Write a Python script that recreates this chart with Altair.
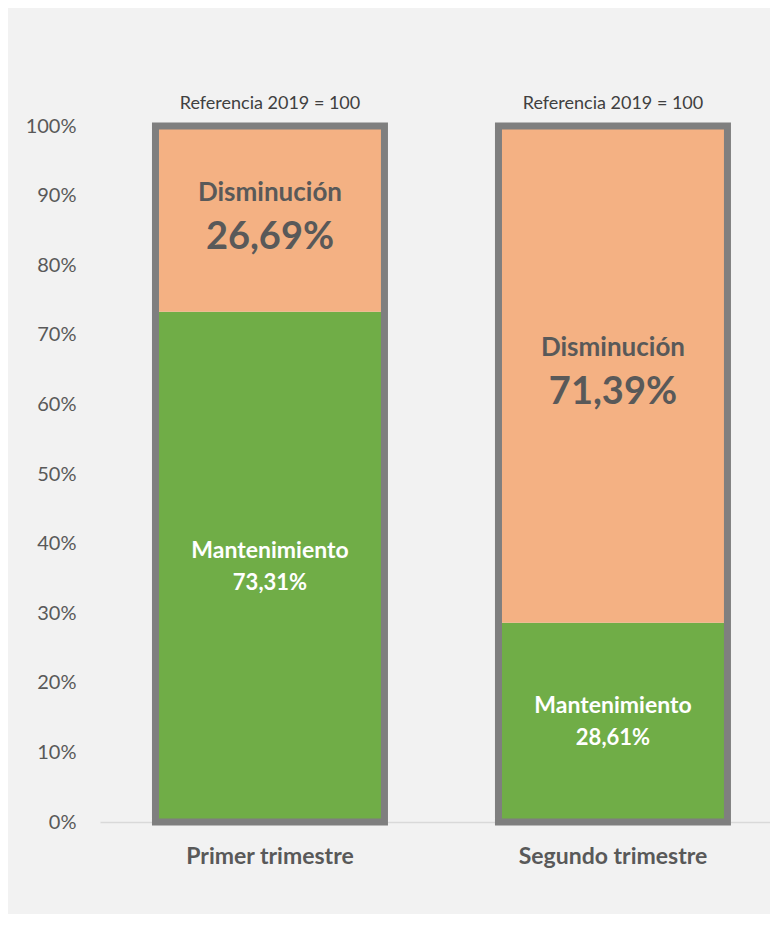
import altair as alt
import pandas as pd

quarters = ["Primer trimestre", "Segundo trimestre"]
mantenimiento = [73.31, 28.61]
disminucion = [26.69, 71.39]
segment_names = ["Mantenimiento", "Disminución"]
reference_label = "Referencia 2019 = 100"
y_ticks = [0, 10, 20, 30, 40, 50, 60, 70, 80, 90, 100]

rows = []
for q, m, d in zip(quarters, mantenimiento, disminucion):
    rows.append({"q": q, "seg": segment_names[0], "v": m, "y0": 0.0, "y1": m})
    rows.append({"q": q, "seg": segment_names[1], "v": d, "y0": m, "y1": m + d})
df = pd.DataFrame(rows)
df["mid"] = (df["y0"] + df["y1"]) / 2
df["txt"] = df["v"].map(lambda v: f"{v:.2f}".replace(".", ",") + "%")

ref = pd.DataFrame({"q": quarters, "lo": [0, 0], "hi": [100, 100], "lab": [reference_label] * 2})

FONT = "Lato"
GREY = "#595959"

xscale = alt.Scale(domain=quarters, paddingInner=0.3324, paddingOuter=0.1429, align=0.566)
yscale = alt.Scale(domain=[0, 100], nice=False)

x_enc = alt.X("q:N", scale=xscale, sort=quarters, title=None,
              axis=alt.Axis(labelAngle=0, labelFont=FONT, labelFontSize=23, labelFontWeight="bold",
                            labelColor=GREY, labelPadding=23, labelLimit=0, ticks=False,
                            domainColor="#d9d9d9", domainWidth=1.5))
y_axis = alt.Axis(values=y_ticks, labelExpr="datum.value + '%'", labelFont=FONT, labelFontSize=20,
                  labelColor=GREY, labelPadding=24, ticks=False, domain=False, grid=False)

base = alt.Chart(df)

bars = base.mark_bar().encode(
    x=x_enc,
    y=alt.Y("y0:Q", scale=yscale, axis=y_axis, title=None),
    y2="y1:Q",
    color=alt.Color("seg:N", scale=alt.Scale(domain=segment_names, range=["#70AD47", "#F4B183"]), legend=None),
)

outline = alt.Chart(ref).mark_bar(fillOpacity=0, stroke="#7F7F7F", strokeWidth=7).encode(
    x=alt.X("q:N", scale=xscale, sort=quarters),
    y=alt.Y("lo:Q", scale=yscale),
    y2="hi:Q",
)

ref_text = alt.Chart(ref).mark_text(font=FONT, fontSize=18, color="#404040", dy=-22, baseline="middle").encode(
    x=alt.X("q:N", scale=xscale, sort=quarters),
    y=alt.Y("hi:Q", scale=yscale),
    text="lab:N",
)

green = df[df["seg"] == segment_names[0]]
orange = df[df["seg"] == segment_names[1]]

g_name = alt.Chart(green).mark_text(font=FONT, fontSize=23, fontWeight="bold", color="white", dy=-16, baseline="middle").encode(
    x=alt.X("q:N", scale=xscale, sort=quarters), y=alt.Y("mid:Q", scale=yscale), text="seg:N")
g_val = alt.Chart(green).mark_text(font=FONT, fontSize=22, fontWeight="bold", color="white", dy=16, baseline="middle").encode(
    x=alt.X("q:N", scale=xscale, sort=quarters), y=alt.Y("mid:Q", scale=yscale), text="txt:N")
o_name = alt.Chart(orange).mark_text(font=FONT, fontSize=26, fontWeight="bold", color=GREY, dy=-26, baseline="middle").encode(
    x=alt.X("q:N", scale=xscale, sort=quarters), y=alt.Y("mid:Q", scale=yscale), text="seg:N")
o_val = alt.Chart(orange).mark_text(font=FONT, fontSize=38, fontWeight="bold", color=GREY, dy=19, baseline="middle").encode(
    x=alt.X("q:N", scale=xscale, sort=quarters), y=alt.Y("mid:Q", scale=yscale), text="txt:N")

chart = alt.layer(bars, outline, ref_text, g_name, g_val, o_name, o_val).properties(
    width=670,
    height=696,
    background="#F2F2F2",
    padding={"left": 92, "top": 118, "right": 0, "bottom": 92},
    autosize=alt.AutoSizeParams(type="none"),
).configure_view(stroke=None)

chart.save("out.html", embed_options={"renderer": "svg", "actions": False})
